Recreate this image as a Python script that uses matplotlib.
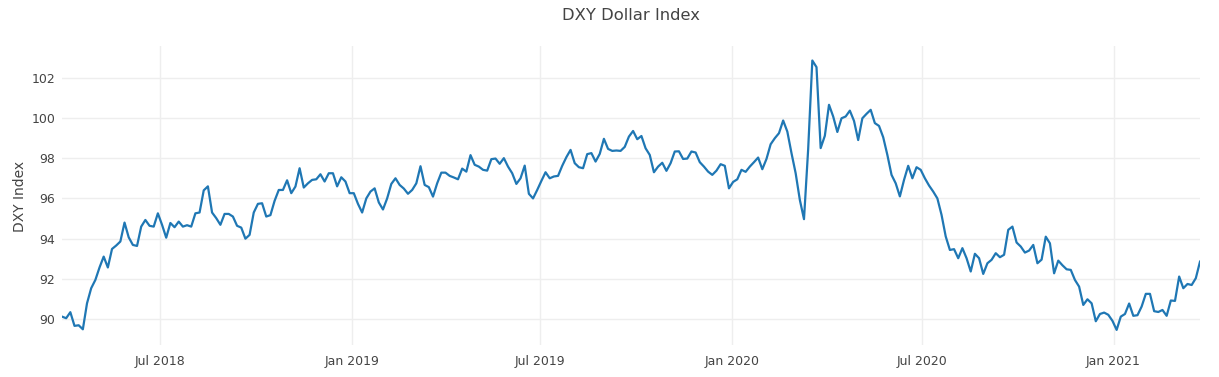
import pandas as pd
import matplotlib
matplotlib.use("Agg")
import matplotlib.pyplot as plt
import matplotlib.dates as mdates

# DXY values, one every 4 days from 2018-03-29
start_date = "2018-03-29"
step = "4D"
dxy = [
    90.13, 90.05, 90.35, 89.67, 89.70, 89.50, 90.79, 91.54, 91.95, 92.57,
    93.11, 92.57, 93.49, 93.66, 93.86, 94.80, 94.07, 93.69, 93.64, 94.60,
    94.93, 94.64, 94.60, 95.26, 94.69, 94.05, 94.78, 94.57, 94.85, 94.60,
    94.67, 94.60, 95.26, 95.30, 96.40, 96.60, 95.30, 95.02, 94.69, 95.23,
    95.23, 95.10, 94.64, 94.55, 94.00, 94.19, 95.30, 95.73, 95.76, 95.10,
    95.17, 95.88, 96.42, 96.42, 96.90, 96.26, 96.59, 97.50, 96.54, 96.75,
    96.92, 96.95, 97.20, 96.84, 97.25, 97.25, 96.60, 97.05, 96.84, 96.26,
    96.26, 95.73, 95.30, 96.00, 96.34, 96.50, 95.80, 95.45, 96.00, 96.72,
    97.00, 96.67, 96.49, 96.23, 96.42, 96.75, 97.60, 96.67, 96.56, 96.09,
    96.75, 97.28, 97.28, 97.12, 97.04, 96.95, 97.48, 97.33, 98.15, 97.67,
    97.58, 97.42, 97.38, 97.95, 97.98, 97.72, 98.00, 97.58, 97.25, 96.72,
    97.00, 97.63, 96.23, 96.00, 96.42, 96.87, 97.30, 97.00, 97.09, 97.12,
    97.62, 98.05, 98.41, 97.75, 97.55, 97.50, 98.20, 98.25, 97.83, 98.21,
    98.96, 98.46, 98.36, 98.38, 98.36, 98.56, 99.07, 99.35, 98.94, 99.10,
    98.49, 98.16, 97.30, 97.58, 97.77, 97.37, 97.75, 98.33, 98.34, 97.96,
    97.98, 98.33, 98.28, 97.80, 97.58, 97.33, 97.17, 97.38, 97.70, 97.62,
    96.50, 96.82, 96.95, 97.42, 97.32, 97.58, 97.80, 98.03, 97.45, 97.96,
    98.69, 98.99, 99.24, 99.87, 99.32, 98.25, 97.25, 95.93, 94.97, 98.44,
    102.85, 102.52, 98.50, 99.11, 100.65, 100.07, 99.30, 99.98, 100.07, 100.36,
    99.85, 98.90, 99.98, 100.20, 100.40, 99.74, 99.60, 99.04, 98.16, 97.17,
    96.75, 96.10, 96.92, 97.62, 97.00, 97.55, 97.42, 97.00, 96.64, 96.34,
    96.00, 95.18, 94.11, 93.44, 93.48, 93.03, 93.53, 93.03, 92.37, 93.25,
    93.03, 92.25, 92.78, 92.95, 93.28, 93.08, 93.20, 94.44, 94.60, 93.81,
    93.61, 93.31, 93.41, 93.69, 92.78, 92.96, 94.10, 93.77, 92.28, 92.91,
    92.68, 92.48, 92.45, 91.95, 91.62, 90.71, 90.99, 90.79, 89.90, 90.26,
    90.33, 90.22, 89.92, 89.47, 90.13, 90.26, 90.78, 90.17, 90.20, 90.63,
    91.26, 91.26, 90.40, 90.36, 90.46, 90.17, 90.93, 90.91, 92.12, 91.54,
    91.75, 91.70, 92.04, 92.86,
]
dates = pd.date_range(start=start_date, periods=len(dxy), freq=step)

title = "DXY Dollar Index"
y_label = "DXY Index"
y_ticks = [90, 92, 94, 96, 98, 100, 102]

plt.rcParams["font.family"] = ["DejaVu Sans"]
txt = "#444444"

fig = plt.figure(figsize=(12.19, 3.77), dpi=100)
ax = fig.add_axes([62 / 1219, 1 - 345 / 377, (1200 - 62) / 1219, (345 - 46) / 377])

ax.plot(dates, dxy, color="#1f77b4", linewidth=1.6, solid_joinstyle="round")

ax.set_xlim(dates[0], dates[-1])
ax.set_ylim(88.72, 103.57)
ax.set_yticks(y_ticks)
ax.xaxis.set_major_locator(mdates.MonthLocator(bymonth=[1, 7]))
ax.xaxis.set_major_formatter(mdates.DateFormatter("%b %Y"))

# plotly-like look: light grid, no spines, no tick marks
ax.grid(True, color="#eeeeee", linewidth=1)
ax.set_axisbelow(True)
for s in ax.spines.values():
    s.set_visible(False)
ax.tick_params(axis="both", length=0, labelsize=9, labelcolor=txt)
ax.tick_params(axis="x", pad=7)
ax.tick_params(axis="y", pad=5)

fig.text(20 / 1219, 1 - 196 / 377, y_label, rotation=90, ha="center", va="center",
         fontsize=10, color=txt)
# title is centred over the plot area
fig.text(631 / 1219, 1 - 15 / 377, title, ha="center", va="center", fontsize=11.8, color=txt)

fig.savefig("out.png", dpi=100)
